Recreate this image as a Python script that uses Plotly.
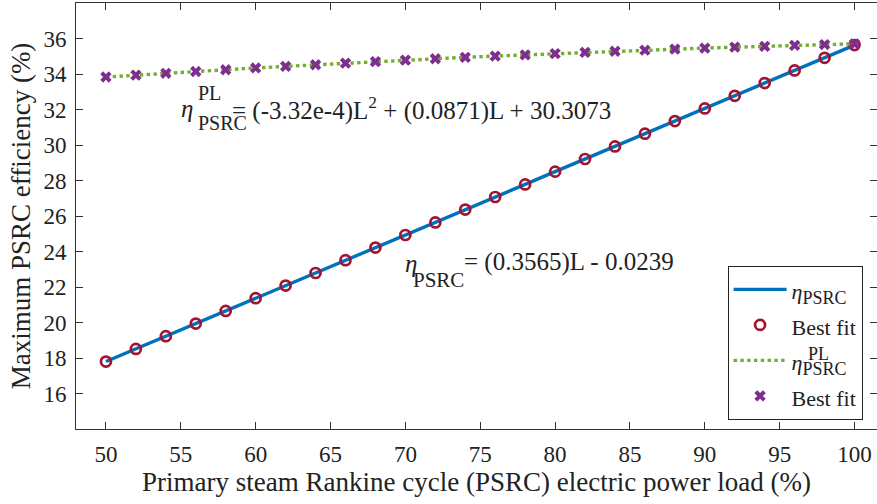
import plotly.graph_objects as go

# ---- data ----
load = [50, 52, 54, 56, 58, 60, 62, 64, 66, 68, 70, 72, 74, 76, 78, 80,
        82, 84, 86, 88, 90, 92, 94, 96, 98, 100]
eta_psrc = [17.80, 18.51, 19.23, 19.94, 20.65, 21.37, 22.08, 22.79, 23.51,
            24.22, 24.93, 25.64, 26.36, 27.07, 27.78, 28.50, 29.21, 29.92,
            30.64, 31.35, 32.06, 32.77, 33.49, 34.20, 34.91, 35.63]
eta_psrc_pl = [33.83, 33.94, 34.04, 34.14, 34.24, 34.34, 34.43, 34.52, 34.61,
               34.70, 34.78, 34.86, 34.94, 35.01, 35.08, 35.15, 35.22, 35.28,
               35.34, 35.40, 35.46, 35.51, 35.56, 35.61, 35.66, 35.70]
x_ticks = [50, 55, 60, 65, 70, 75, 80, 85, 90, 95, 100]
y_ticks = [16, 18, 20, 22, 24, 26, 28, 30, 32, 34, 36]

FONT = "Liberation Serif"
BLUE = "#0072BD"
RED = "#A2142F"
GREEN = "#77AC30"
PURPLE = "#7E2F8E"
INK = "#222222"

def leg(s):
    return "<span style='font-size:22px'>" + s + "</span>"

ETA_LEG = leg("<i>η</i><sub><span style='font-size:18px'>PSRC</span></sub>")

fig = go.Figure()
fig.add_trace(go.Scatter(x=load, y=eta_psrc, mode="lines",
                         line=dict(color=BLUE, width=3.4),
                         name=ETA_LEG))
fig.add_trace(go.Scatter(x=load, y=eta_psrc, mode="markers",
                         marker=dict(symbol="circle-open", size=10, color=RED,
                                     line=dict(color=RED, width=2.7)),
                         name=leg("Best fit")))
fig.add_trace(go.Scatter(x=load, y=eta_psrc_pl, mode="lines",
                         line=dict(color=GREEN, width=3.4, dash="dot"),
                         name=ETA_LEG))
fig.add_trace(go.Scatter(x=load, y=eta_psrc_pl, mode="markers",
                         marker=dict(symbol="x", size=10, color=PURPLE,
                                     line=dict(width=0)),
                         name=leg("Best fit")))

ann = []
def txt(x, y, s, size, ref="data"):
    ann.append(dict(x=x, y=y, xref="x" if ref == "data" else "paper",
                    yref="y" if ref == "data" else "paper",
                    text=s, showarrow=False, xanchor="left", yanchor="middle",
                    borderpad=0,
                    font=dict(family=FONT, size=size, color=INK)))

# equation 1 (part load)
txt(54.95, 32.03, "<i>η</i>", 25)
txt(56.08, 32.93, "PL", 20)
txt(56.08, 31.25, "PSRC", 20)
txt(58.35, 32.05, "= (-3.32e-4)L<sup>2</sup> + (0.0871)L + 30.3073", 25)
# equation 2
txt(69.91, 23.35, "<i>η</i>", 25)
txt(70.44, 22.42, "PSRC", 21)
txt(73.85, 23.4, "= (0.3565)L - 0.0239", 25)
# superscript of the third legend entry
txt(0.912, 0.176, "PL", 18, ref="paper")

fig.update_layout(
    width=877, height=504,
    margin=dict(l=76, r=0, t=3, b=75),
    paper_bgcolor="white", plot_bgcolor="white",
    font=dict(family=FONT, color=INK),
    annotations=ann,
    legend=dict(x=0.982, xanchor="right", y=0.022, yanchor="bottom",
                bgcolor="white", bordercolor=INK, borderwidth=1,
                font=dict(family=FONT, size=25, color=INK),
                itemwidth=53, tracegroupgap=0),
    xaxis=dict(range=[48, 101.5], tickvals=x_ticks, ticks="inside",
               ticklen=7, tickcolor="#333333", showline=True, linecolor="#333333",
               linewidth=1, mirror="ticks", showgrid=False, zeroline=False,
               automargin=False, ticklabelstandoff=4,
               tickfont=dict(family=FONT, size=23),
               title=dict(text="Primary steam Rankine cycle (PSRC) electric power load (%)",
                          font=dict(family=FONT, size=27), standoff=4)),
    yaxis=dict(range=[14, 38], tickvals=y_ticks, ticks="inside",
               ticklen=7, tickcolor="#333333", showline=True, linecolor="#333333",
               linewidth=1, mirror="ticks", showgrid=False, zeroline=False,
               automargin=False, ticklabelstandoff=4,
               tickfont=dict(family=FONT, size=23),
               title=dict(text="Maximum PSRC efficiency (%)",
                          font=dict(family=FONT, size=27), standoff=4)),
)

fig.write_html("out.html", config={"displayModeBar": False},
               post_script="document.body.style.margin='0px';")
